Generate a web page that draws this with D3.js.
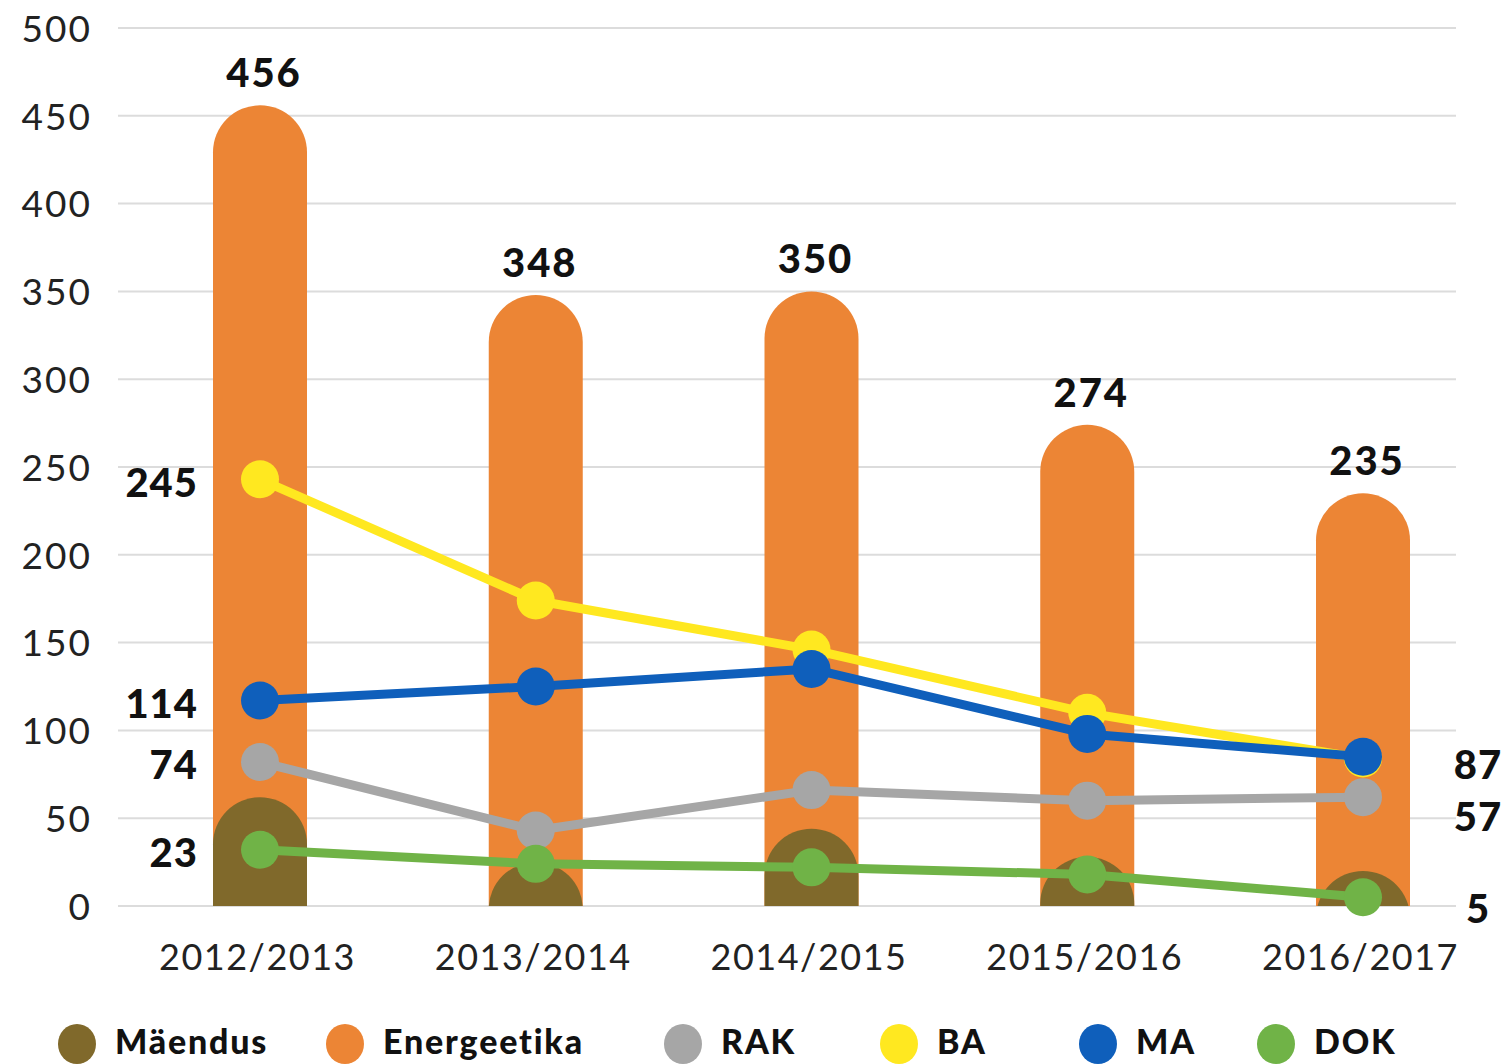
<!DOCTYPE html>
<html><head><meta charset="utf-8">
<script src="https://cdn.jsdelivr.net/npm/d3@7"></script>
<style>body{margin:0;background:#fff;overflow:hidden}</style>
</head><body><svg id="c" width="1506" height="1064"></svg>
<script>
const categories = ["2012/2013","2013/2014","2014/2015","2015/2016","2016/2017"];
const maendus = [62,25,44,28,20];
const energeetika = [456,348,350,274,235];
const rak = [82,43,66,60,62];
const ba = [243,174,146,110,84];
const ma = [117,125,135,98,85];
const dok = [32,24,22,18,5];
const yTicks = [0,50,100,150,200,250,300,350,400,450,500];
const energeetikaLabels = ["456","348","350","274","235"];
const startLabels = ["245","114","74","23"];   // BA, MA, RAK, DOK at first year
const endLabels = ["87","57","5"];             // MA, RAK, DOK at last year
const endLabelValues = [87,57,5];
const legendNames = ["Mäendus","Energeetika","RAK","BA","MA","DOK"];

const colors = {Mäendus:"#80692B",Energeetika:"#EC8535",RAK:"#A6A6A6",BA:"#FFE820",MA:"#0F5FBB",DOK:"#70B347"};
const FONT = "Lato, 'Open Sans', sans-serif";

const svg = d3.select("#c");
const x = d3.scalePoint().domain(categories).range([260,1363]);
const y = d3.scaleLinear().domain([0,500]).range([906,28]);
const barW = 94;

// grid
svg.append("g").selectAll("line").data(yTicks).join("line")
  .attr("x1",118).attr("x2",1456)
  .attr("y1",d=>y(d)).attr("y2",d=>y(d))
  .attr("stroke","#dcdcdc").attr("stroke-width",2);

// y axis labels
const yAxis = d3.axisLeft(y).tickValues(yTicks).tickSize(0).tickPadding(0);
const ya = svg.append("g").attr("transform","translate(92,0)").call(yAxis);
ya.select(".domain").remove();
ya.selectAll("text").attr("font-family",FONT).attr("font-size",37)
  .attr("fill","#222").attr("letter-spacing",2).attr("dy","0.36em");

// x axis labels
const xAxis = d3.axisBottom(x).tickSize(0).tickPadding(0);
const xa = svg.append("g").attr("transform","translate(-3,970)").call(xAxis);
xa.select(".domain").remove();
xa.selectAll("text").attr("font-family",FONT).attr("font-size",36)
  .attr("fill","#222").attr("dy",0).attr("letter-spacing",1.5);

// clip at baseline
svg.append("defs").append("clipPath").attr("id","base")
  .append("rect").attr("x",0).attr("y",0).attr("width",1506).attr("height",y(0));

const bars = svg.append("g").attr("clip-path","url(#base)");
function drawBars(data, color){
  bars.append("g").selectAll("rect").data(data).join("rect")
    .attr("x",(d,i)=>x(categories[i])-barW/2)
    .attr("width",barW)
    .attr("y",d=>y(d))
    .attr("height",d=>y(0)-y(d)+barW)
    .attr("rx",barW/2).attr("ry",barW/2)
    .attr("fill",color);
}
drawBars(energeetika, colors.Energeetika);
drawBars(maendus, colors.Mäendus);

// bar value labels
svg.append("g").selectAll("text").data(energeetika).join("text")
  .attr("x",(d,i)=>x(categories[i])+4)
  .attr("y",d=>y(d)-18)
  .attr("text-anchor","middle")
  .attr("font-family",FONT).attr("font-weight",900).attr("font-size",40)
  .attr("letter-spacing",2).attr("fill","#111")
  .text((d,i)=>energeetikaLabels[i]);

// lines
const line = d3.line().x((d,i)=>x(categories[i])).y(d=>y(d));
[["RAK",rak],["BA",ba],["MA",ma],["DOK",dok]].forEach(([name,data])=>{
  const g = svg.append("g");
  g.append("path").datum(data).attr("d",line).attr("fill","none")
    .attr("stroke",colors[name]).attr("stroke-width",9).attr("stroke-linejoin","round");
  g.selectAll("circle").data(data).join("circle")
    .attr("cx",(d,i)=>x(categories[i])).attr("cy",d=>y(d)).attr("r",19)
    .attr("fill",colors[name]);
});

// start labels
const startData = [ba[0],ma[0],rak[0],dok[0]];
svg.append("g").selectAll("text").data(startData).join("text")
  .attr("x",x(categories[0])-62)
  .attr("y",d=>y(d)+3)
  .attr("dy","0.36em")
  .attr("text-anchor","end")
  .attr("font-family",FONT).attr("font-weight",900).attr("font-size",40)
  .attr("letter-spacing",1).attr("fill","#111")
  .text((d,i)=>startLabels[i]);

// end labels
svg.append("g").selectAll("text").data(endLabelValues).join("text")
  .attr("x",1478)
  .attr("y",d=>y(d)+11)
  .attr("dy","0.36em")
  .attr("text-anchor","middle")
  .attr("font-family",FONT).attr("font-weight",900).attr("font-size",40)
  .attr("letter-spacing",1).attr("fill","#111")
  .text((d,i)=>endLabels[i]);

// legend
const legendX = [77,345,683,899,1098,1276];
const lg = svg.append("g");
legendNames.forEach((n,i)=>{
  lg.append("ellipse").attr("cx",legendX[i]).attr("cy",1044).attr("rx",19).attr("ry",20).attr("fill",colors[n]);
  lg.append("text").attr("x",legendX[i]+38).attr("y",1054)
    .attr("font-family",FONT).attr("font-weight",900).attr("font-size",34)
    .attr("letter-spacing",1.8).attr("fill","#111").text(n);
});
</script>
</body></html>
